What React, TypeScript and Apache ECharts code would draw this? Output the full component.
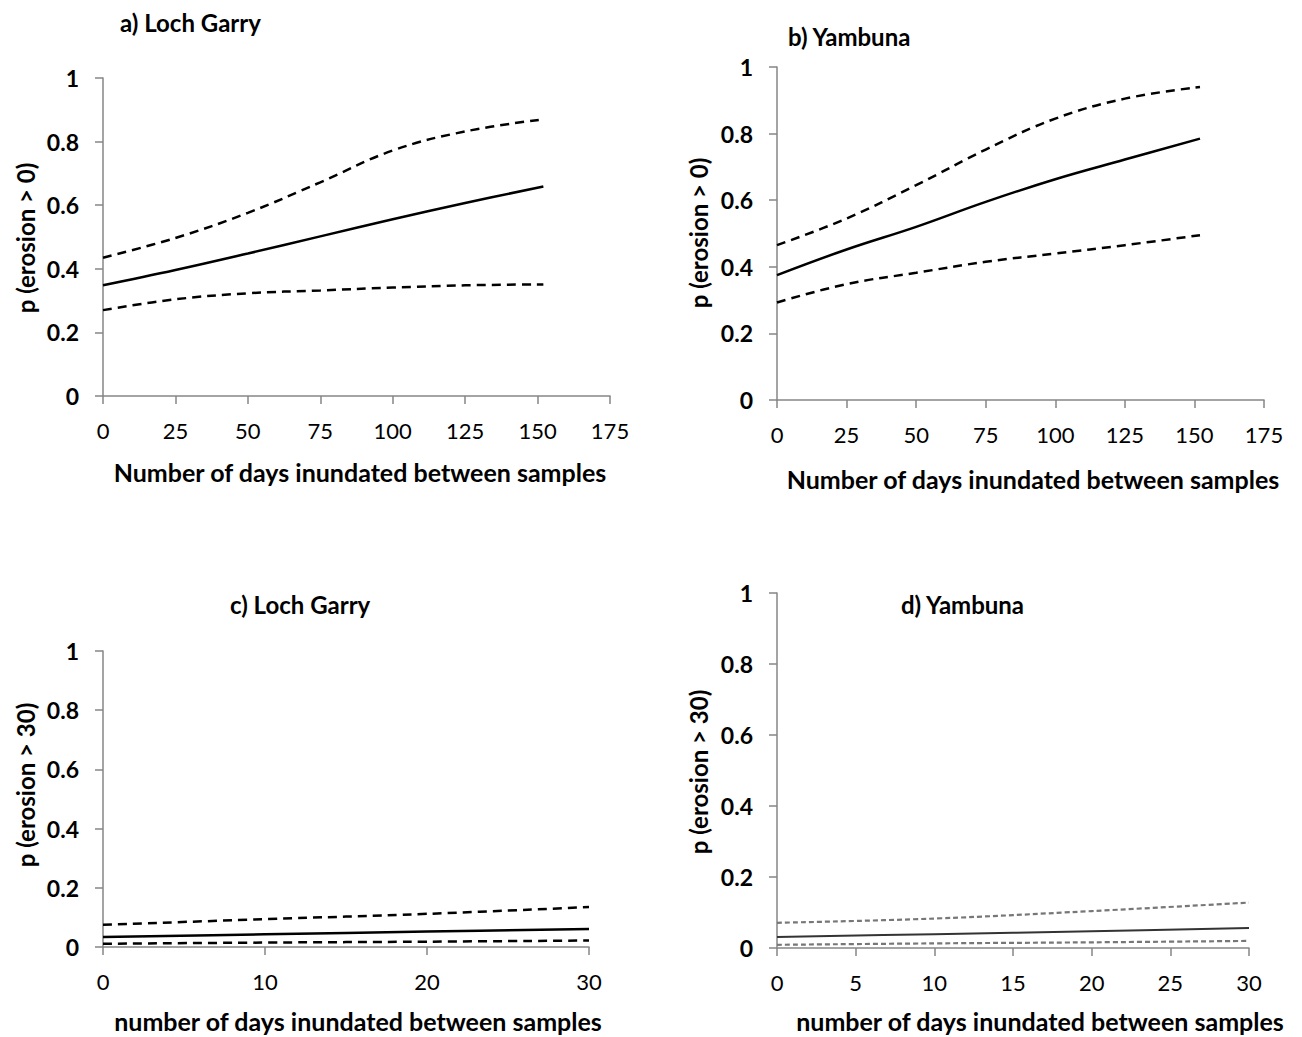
import React, { useEffect, useRef } from "react";
import * as echarts from "echarts";

// Modelled probability of erosion vs. days inundated, with 95% bounds
const daysLong = [0, 25, 50, 75, 100, 125, 152];
const daysShort = [0, 10, 20, 30];

const lochGarryAny = [0.348, 0.396, 0.448, 0.502, 0.556, 0.607, 0.659];
const lochGarryAnyUpper = [0.435, 0.497, 0.576, 0.672, 0.772, 0.832, 0.87];
const lochGarryAnyLower = [0.27, 0.304, 0.323, 0.332, 0.341, 0.348, 0.351];

const yambunaAny = [0.375, 0.452, 0.52, 0.595, 0.663, 0.722, 0.785];
const yambunaAnyUpper = [0.465, 0.545, 0.645, 0.752, 0.845, 0.905, 0.94];
const yambunaAnyLower = [0.293, 0.348, 0.382, 0.415, 0.44, 0.465, 0.495];

const lochGarry30 = [0.034, 0.043, 0.052, 0.061];
const lochGarry30Upper = [0.075, 0.094, 0.112, 0.135];
const lochGarry30Lower = [0.011, 0.015, 0.018, 0.022];

const yambuna30 = [0.031, 0.039, 0.047, 0.056];
const yambuna30Upper = [0.071, 0.083, 0.104, 0.128];
const yambuna30Lower = [0.009, 0.013, 0.016, 0.02];

const panelTitles = ["a) Loch Garry", "b) Yambuna", "c) Loch Garry", "d) Yambuna"];
const xTitles = [
  "Number of days inundated between samples",
  "Number of days inundated between samples",
  "number of days inundated between samples",
  "number of days inundated between samples",
];
const yTitles = ["p (erosion > 0)", "p (erosion > 0)", "p (erosion > 30)", "p (erosion > 30)"];

const FONT = "Lato, 'Open Sans', sans-serif";
const AXIS_GREY = "#868686";

const grids = [
  { left: 103, top: 78, width: 507, height: 318 },
  { left: 777, top: 67, width: 487, height: 333 },
  { left: 103, top: 651, width: 486, height: 296 },
  { left: 777, top: 593, width: 472, height: 355 },
];

const xRanges = [
  { max: 175, interval: 25 },
  { max: 175, interval: 25 },
  { max: 30, interval: 10 },
  { max: 30, interval: 5 },
];

const pairs = (xs: number[], ys: number[]) => xs.map((x, i) => [x, ys[i]]);

export default function App() {
  const ref = useRef<HTMLDivElement>(null);

  useEffect(() => {
    if (!ref.current) return;
    const chart = echarts.init(ref.current, null, { renderer: "svg" });

    const xAxis = grids.map((_, i) => ({
      type: "value",
      gridIndex: i,
      min: 0,
      max: xRanges[i].max,
      interval: xRanges[i].interval,
      axisLine: { show: true, lineStyle: { color: AXIS_GREY, width: 1.5 } },
      axisTick: { show: true, length: 8, lineStyle: { color: AXIS_GREY, width: 1.5 } },
      splitLine: { show: false },
      axisLabel: { margin: 23, color: "#000", fontFamily: FONT, fontSize: 22 },
    }));

    const yAxis = grids.map((_, i) => ({
      type: "value",
      gridIndex: i,
      min: 0,
      max: 1,
      interval: 0.2,
      axisLine: { show: true, lineStyle: { color: AXIS_GREY, width: 1.5 } },
      axisTick: { show: true, length: 8, lineStyle: { color: AXIS_GREY, width: 1.5 } },
      splitLine: { show: false },
      axisLabel: { margin: 24, color: "#000", fontFamily: FONT, fontSize: 23, fontWeight: "bold" },
    }));

    const mk = (idx: number, xs: number[], ys: number[], dashed: boolean, color: string, width: number, dash?: number[]) => ({
      type: "line",
      xAxisIndex: idx,
      yAxisIndex: idx,
      data: pairs(xs, ys),
      smooth: 0.4,
      showSymbol: false,
      symbol: "none",
      lineStyle: {
        color,
        width,
        type: dashed ? (dash || [9, 6]) : "solid",
      },
    });

    const series = [
      mk(0, daysLong, lochGarryAny, false, "#000", 2.5),
      mk(0, daysLong, lochGarryAnyUpper, true, "#000", 2.5),
      mk(0, daysLong, lochGarryAnyLower, true, "#000", 2.5),
      mk(1, daysLong, yambunaAny, false, "#000", 2.5),
      mk(1, daysLong, yambunaAnyUpper, true, "#000", 2.5),
      mk(1, daysLong, yambunaAnyLower, true, "#000", 2.5),
      mk(2, daysShort, lochGarry30, false, "#000", 2.5),
      mk(2, daysShort, lochGarry30Upper, true, "#000", 2.5),
      mk(2, daysShort, lochGarry30Lower, true, "#000", 2.5),
      mk(3, daysShort, yambuna30, false, "#333", 2),
      mk(3, daysShort, yambuna30Upper, true, "#777", 2.2, [5, 3]),
      mk(3, daysShort, yambuna30Lower, true, "#777", 2.2, [5, 3]),
    ];

    const titlePos = [
      { x: 120, y: 22 },
      { x: 788, y: 36 },
      { x: 230, y: 604 },
      { x: 901, y: 604 },
    ];
    const xTitlePos = [
      { x: 360, y: 472 },
      { x: 1033, y: 479 },
      { x: 358, y: 1021 },
      { x: 1040, y: 1021 },
    ];
    const yTitlePos = [
      { x: 25, y: 238 },
      { x: 698, y: 233 },
      { x: 25, y: 785 },
      { x: 698, y: 772 },
    ];

    const bold = (size: number) => `bold ${size}px ${FONT}`;
    const graphic: any[] = [];
    panelTitles.forEach((t, i) => {
      graphic.push({
        type: "text",
        x: titlePos[i].x,
        y: titlePos[i].y,
        style: { text: t, font: bold(24), fill: "#000", textAlign: "left", textVerticalAlign: "middle" },
      });
    });
    xTitles.forEach((t, i) => {
      graphic.push({
        type: "text",
        x: xTitlePos[i].x,
        y: xTitlePos[i].y,
        style: { text: t, font: bold(25), fill: "#000", textAlign: "center", textVerticalAlign: "middle" },
      });
    });
    yTitles.forEach((t, i) => {
      graphic.push({
        type: "text",
        x: yTitlePos[i].x,
        y: yTitlePos[i].y,
        rotation: Math.PI / 2,
        style: { text: t, font: bold(24), fill: "#000", textAlign: "center", textVerticalAlign: "middle" },
      });
    });

    chart.setOption({
      animation: false,
      backgroundColor: "#fff",
      grid: grids.map((g) => ({ ...g, containLabel: false })),
      xAxis,
      yAxis,
      series,
      graphic,
    });

    return () => chart.dispose();
  }, []);

  return (
    <div
      ref={ref}
      style={{ position: "fixed", left: 0, top: 0, width: 1302, height: 1037, background: "#fff" }}
    />
  );
}
